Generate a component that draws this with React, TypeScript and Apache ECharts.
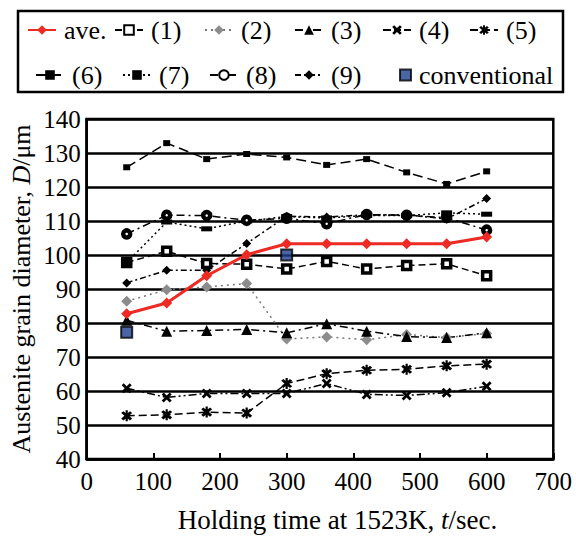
import React, { useEffect, useRef } from "react";
import * as echarts from "echarts";

// ---- data ----
const times = [60, 120, 180, 240, 300, 360, 420, 480, 540, 600];
const aveValues = [82.7, 85.9, 93.9, 100.1, 103.3, 103.3, 103.3, 103.3, 103.3, 105.3];
const s1Values = [97.8, 101.1, 97.5, 97.3, 95.9, 98.1, 95.9, 96.9, 97.4, 93.9];
const s2Values = [86.4, 89.8, 90.6, 91.6, 75.3, 75.9, 75.1, 76.6, 75.7, 76.9];
const s3Values = [80.8, 77.6, 77.8, 78.1, 77.1, 79.8, 77.6, 76.0, 75.7, 77.1];
const s4Values = [60.8, 58.1, 59.3, 59.3, 59.3, 62.2, 59.0, 58.7, 59.5, 61.4];
const s5Values = [52.7, 53.0, 53.8, 53.5, 62.2, 65.1, 66.1, 66.4, 67.4, 67.9];
const s6Values = [125.8, 132.9, 128.2, 129.7, 128.7, 126.5, 128.2, 124.3, 120.9, 124.6];
const s7Values = [97.8, 109.7, 107.7, 110.0, 111.3, 110.9, 111.6, 111.6, 112.4, 112.0];
const s8Values = [106.2, 111.7, 111.6, 110.2, 110.8, 109.2, 111.9, 111.7, 111.0, 107.3];
const s9Values = [91.8, 95.5, 95.5, 103.4, 111.4, 111.2, 111.8, 111.8, 110.6, 116.6];
const convTimes = [60, 300];
const convValues = [77.3, 100.0];

const legendRow1 = ["ave.", "(1)", "(2)", "(3)", "(4)", "(5)"];
const legendRow2 = ["(6)", "(7)", "(8)", "(9)", "conventional"];

// ---- layout ----
const row1TextX = [63, 150, 240, 330, 418, 505];
const row2TextX = [71, 158, 245, 330, 418];
const row1Top = 17;
const row2Top = 62;

const SERIF = "Liberation Serif, Times New Roman, serif";

const X_SHAPE = "path://M2,0 L5,3 L8,0 L10,2 L7,5 L10,8 L8,10 L5,7 L2,10 L0,8 L3,5 L0,2 Z";
const STAR_SHAPE =
  "path://M2,0 L5,3 L8,0 L10,2 L7,5 L10,8 L8,10 L5,7 L2,10 L0,8 L3,5 L0,2 Z M4,-1 L6,-1 L6,11 L4,11 Z";

const pairs = (vals: number[]) => times.map((t, i) => [t, vals[i]]);

const serifRich = (size: number) => ({
  s: { fontFamily: SERIF, fontSize: size, color: "#000" },
  i: { fontFamily: SERIF, fontSize: size, color: "#000", fontStyle: "italic" },
});

function lineSeries(
  name: string,
  vals: number[],
  dash: number[] | "solid",
  symbol: string,
  symbolSize: number | number[],
  extra: any = {}
) {
  return {
    name,
    type: "line",
    data: pairs(vals),
    symbol,
    symbolSize,
    showSymbol: true,
    lineStyle: { color: "#000", width: 1.5, type: dash },
    itemStyle: { color: "#000", borderColor: "#000", borderWidth: 0 },
    z: 3,
    ...extra,
  };
}

export default function App() {
  const ref = useRef<HTMLDivElement>(null);

  useEffect(() => {
    if (!ref.current) return;
    const chart = echarts.init(ref.current, undefined, { renderer: "svg" });

    const series: any[] = [
      lineSeries("(1)", s1Values, [7, 4], "rect", 8, {
        itemStyle: { color: "#fff", borderColor: "#000", borderWidth: 3.5 },
      }),
      lineSeries("(2)", s2Values, [2, 4], "diamond", 11, {
        lineStyle: { color: "#777", width: 1.5, type: [2, 4] },
        itemStyle: { color: "#8c8c8c", borderColor: "#8c8c8c", borderWidth: 0 },
      }),
      lineSeries("(3)", s3Values, [8, 4, 2, 4], "triangle", 11),
      lineSeries("(4)", s4Values, [8, 3, 2, 3, 2, 3], X_SHAPE, 10),
      lineSeries("(5)", s5Values, [8, 4], STAR_SHAPE, 11),
      lineSeries("(6)", s6Values, [10, 5], "rect", [7, 6]),
      lineSeries("(7)", s7Values, [2, 3], "rect", [11, 5]),
      lineSeries("(8)", s8Values, [8, 4, 2, 4], "circle", 7, {
        itemStyle: { color: "#fff", borderColor: "#000", borderWidth: 4.5 },
      }),
      lineSeries("(9)", s9Values, [6, 3, 2, 3], "diamond", 9),
      {
        name: "conventional",
        type: "scatter",
        data: convTimes.map((t, i) => [t, convValues[i]]),
        symbol: "rect",
        symbolSize: 11,
        itemStyle: { color: "#1f3f8f", borderColor: "#000", borderWidth: 2 },
        z: 4,
      },
      {
        name: "ave.",
        type: "line",
        data: pairs(aveValues),
        symbol: "diamond",
        symbolSize: 11,
        lineStyle: { color: "#ee2a24", width: 3 },
        itemStyle: { color: "#ee2a24" },
        z: 6,
      },
    ];

    const legendBase = {
      orient: "horizontal",
      padding: 0,
      itemHeight: 12,
      selectedMode: false,
      formatter: (n: string) => `{s|${n}}`,
      textStyle: {
        fontFamily: SERIF,
        fontSize: 26,
        color: "#000",
        padding: [0, 0, 0, 3],
        rich: { s: { fontFamily: SERIF, fontSize: 26, color: "#000", lineHeight: 28 } },
      },
    };

    const legends: any[] = [];
    legendRow1.forEach((name, i) => {
      legends.push({
        ...legendBase,
        data: [name],
        itemWidth: 28,
        left: row1TextX[i] - 36,
        top: row1Top,
      });
    });
    legendRow2.forEach((name, i) => {
      const isConv = name === "conventional";
      const w = isConv ? 11 : 28;
      legends.push({
        ...legendBase,
        data: [name],
        itemWidth: w,
        itemHeight: isConv ? 11 : 12,
        left: row2TextX[i] - w - 8,
        top: row2Top,
      });
    });

    chart.setOption({
      animation: false,
      backgroundColor: "#fff",
      textStyle: { fontFamily: SERIF },
      legend: legends,
      graphic: [
        {
          type: "rect",
          shape: { x: 18, y: 11, width: 545, height: 81 },
          style: { fill: "none", stroke: "#000", lineWidth: 2.5 },
          silent: true,
        },
      ],
      grid: {
        left: 86.7,
        right: 22.7,
        top: 119,
        bottom: 78,
        show: true,
        borderColor: "#000",
        borderWidth: 2.5,
        backgroundColor: "transparent",
      },
      xAxis: {
        type: "value",
        min: 0,
        max: 700,
        interval: 100,
        name: "{s|Holding time at 1523K, }{i|t}{s|/sec.}",
        nameLocation: "middle",
        nameGap: 47,
        nameMoveOverlap: false,
        nameTextStyle: {
          fontFamily: SERIF,
          fontSize: 27,
          padding: [0, 0, 0, 35],
          rich: serifRich(27),
        },
        axisLine: { show: true, lineStyle: { color: "#000", width: 2.5 } },
        axisTick: { show: true, inside: true, length: 6, lineStyle: { color: "#000", width: 2 } },
        axisLabel: {
          fontFamily: SERIF,
          fontSize: 25,
          color: "#000",
          margin: 10,
          formatter: (v: number) => `{s|${v}}`,
          rich: serifRich(25),
        },
        splitLine: { show: false },
      },
      yAxis: {
        type: "value",
        min: 40,
        max: 140,
        interval: 10,
        name: "{s|Austenite grain diameter, }{i|D}{s|/μm}",
        nameLocation: "middle",
        nameRotate: 90,
        nameGap: 52,
        nameMoveOverlap: false,
        nameTextStyle: {
          fontFamily: SERIF,
          fontSize: 26,
          rich: serifRich(26),
        },
        axisLine: { show: true, lineStyle: { color: "#000", width: 2.5 } },
        axisTick: { show: false },
        axisLabel: {
          fontFamily: SERIF,
          fontSize: 25,
          color: "#000",
          margin: 6,
          formatter: (v: number) => `{s|${v}}`,
          rich: serifRich(25),
        },
        splitLine: { show: true, lineStyle: { color: "#000", width: 2.5 } },
      },
      series,
    });

    return () => chart.dispose();
  }, []);

  return (
    <div
      ref={ref}
      style={{ position: "fixed", left: 0, top: 0, width: 576, height: 538, overflow: "hidden" }}
    />
  );
}
